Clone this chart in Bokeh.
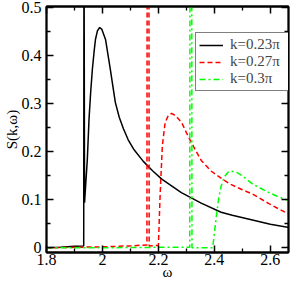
from bokeh.plotting import figure
from bokeh.models import FixedTicker, LinearAxis, Legend, LegendItem, Range1d, CustomJSTickFormatter
from bokeh.embed import file_html
from bokeh.resources import INLINE

# k = 0.23 pi
omega_a = [1.80, 1.85, 1.90, 1.933, 1.934, 1.936, 1.946, 1.952, 1.958, 1.964, 1.970, 1.975,
           1.982, 1.990, 1.998, 2.011, 2.028, 2.046, 2.060, 2.075, 2.092, 2.111, 2.146,
           2.180, 2.212, 2.282, 2.353, 2.424, 2.464, 2.536, 2.600, 2.667]
s_a = [0.000, 0.001, 0.003, 0.004, 0.700, 0.094, 0.185, 0.268, 0.325, 0.372, 0.408, 0.434,
       0.452, 0.459, 0.455, 0.434, 0.372, 0.303, 0.272, 0.248, 0.225, 0.206, 0.180,
       0.160, 0.143, 0.115, 0.093, 0.074, 0.068, 0.058, 0.049, 0.042]

# k = 0.27 pi
omega_b = [1.80, 1.90, 2.00, 2.10, 2.159, 2.160, 2.166, 2.167, 2.200, 2.206, 2.214, 2.224,
           2.235, 2.247, 2.262, 2.283, 2.300, 2.318, 2.353, 2.388, 2.424, 2.459, 2.500,
           2.536, 2.595, 2.630, 2.667]
s_b = [0.000, 0.001, 0.002, 0.004, 0.006, 0.700, 0.700, 0.004, 0.005, 0.108, 0.212, 0.261,
       0.275, 0.280, 0.275, 0.261, 0.240, 0.219, 0.182, 0.160, 0.145, 0.132, 0.121,
       0.112, 0.092, 0.081, 0.070]

# k = 0.3 pi
omega_c = [1.80, 2.00, 2.200, 2.312, 2.313, 2.319, 2.320, 2.394, 2.400, 2.408, 2.416, 2.424,
           2.436, 2.448, 2.459, 2.480, 2.500, 2.536, 2.565, 2.595, 2.630, 2.667]
s_c = [0.000, 0.000, 0.001, 0.001, 0.700, 0.700, 0.000, 0.000, 0.030, 0.070, 0.105, 0.128,
       0.148, 0.157, 0.160, 0.157, 0.150, 0.133, 0.124, 0.115, 0.106, 0.098]

series_labels = ["k=0.23\u03c0", "k=0.27\u03c0", "k=0.3\u03c0"]

x_ticks = [1.8, 2.0, 2.2, 2.4, 2.6]
x_tick_labels = ["1.8", "2", "2.2", "2.4", "2.6"]
x_minor = [1.9, 2.1, 2.3, 2.5]
y_ticks = [0.0, 0.1, 0.2, 0.3, 0.4, 0.5]
y_tick_labels = ["0", "0.1", "0.2", "0.3", "0.4", "0.5"]
y_minor = [0.05, 0.15, 0.25, 0.35, 0.45]

FONT = "'Liberation Serif', 'Times New Roman', Times, serif"

p = figure(width=291, height=282, output_backend="svg", toolbar_location=None,
           x_range=Range1d(1.8, 2.665), y_range=Range1d(-0.0098, 0.5027),
           min_border_left=43, min_border_right=3, min_border_top=6, min_border_bottom=30,
           x_axis_label="\u03c9", y_axis_label="S(k,\u03c9)")
p.xgrid.visible = False
p.ygrid.visible = False
p.outline_line_color = "black"
p.outline_line_width = 1.8
p.background_fill_color = "white"
p.border_fill_color = "white"

xt = FixedTicker(ticks=x_ticks, minor_ticks=x_minor)
yt = FixedTicker(ticks=y_ticks, minor_ticks=y_minor)

def style(ax):
    ax.major_tick_in = 7
    ax.major_tick_out = 0
    ax.minor_tick_in = 4
    ax.minor_tick_out = 0
    ax.axis_line_width = 1.8
    ax.major_tick_line_width = 1.5
    ax.minor_tick_line_width = 1.3
    ax.axis_line_color = "black"
    ax.major_tick_line_color = "black"
    ax.minor_tick_line_color = "black"
    ax.major_label_text_font = FONT
    ax.major_label_text_font_size = "16px"
    ax.major_label_text_color = "black"
    ax.axis_label_text_font = FONT
    ax.axis_label_text_font_size = "15px"
    ax.axis_label_text_font_style = "normal"
    ax.axis_label_text_color = "black"

xa = p.xaxis[0]
ya = p.yaxis[0]
xa.ticker = xt
ya.ticker = yt
style(xa)
style(ya)
xa.major_label_overrides = {t: l for t, l in zip(x_ticks, x_tick_labels)}
ya.major_label_overrides = {t: l for t, l in zip(y_ticks, y_tick_labels)}
xa.major_label_standoff = 1
xa.axis_label_standoff = -4
ya.major_label_standoff = 5
ya.axis_label_standoff = -1

top = LinearAxis(ticker=xt, formatter=CustomJSTickFormatter(code="return ''"))
right = LinearAxis(ticker=yt, formatter=CustomJSTickFormatter(code="return ''"))
for ax in (top, right):
    style(ax)
    ax.major_label_text_font_size = "0px"
    ax.major_label_standoff = 0
p.add_layout(top, "above")
p.add_layout(right, "right")

ra = p.line(omega_a, s_a, line_color="black", line_width=1.5)
rb = p.line(omega_b, s_b, line_color="#ff0000", line_width=1.5, line_dash="5 3")
rc = p.line(omega_c, s_c, line_color="#00ff00", line_width=1.5, line_dash="6 3 2 3")

legend = Legend(items=[LegendItem(label=series_labels[0], renderers=[ra]),
                       LegendItem(label=series_labels[1], renderers=[rb]),
                       LegendItem(label=series_labels[2], renderers=[rc])],
                location=(149, 161), border_line_color="black", border_line_width=1,
                background_fill_color="white", background_fill_alpha=1,
                padding=3, spacing=0, margin=0, label_standoff=7,
                glyph_width=24, glyph_height=14, label_height=14, label_width=55,
                label_text_font=FONT, label_text_font_size="15px",
                label_text_baseline="middle")
p.add_layout(legend)

open("out.html", "w").write(file_html(p, INLINE))
